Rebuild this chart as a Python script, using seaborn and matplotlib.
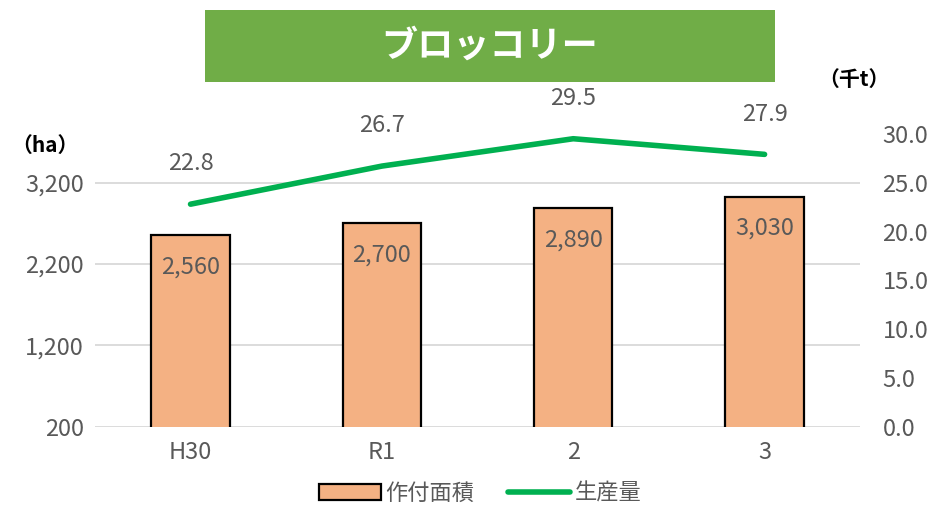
import matplotlib
matplotlib.use("Agg")
import matplotlib.pyplot as plt
import seaborn as sns
import pandas as pd
from matplotlib.patches import Rectangle
from matplotlib.lines import Line2D

# data
years = ["H30", "R1", "2", "3"]
area_ha = [2560, 2700, 2890, 3030]
prod_kt = [22.8, 26.7, 29.5, 27.9]
left_ticks = [200, 1200, 2200, 3200]
right_ticks = [0, 5, 10, 15, 20, 25, 30]

sns.set_style("white")
plt.rcParams['font.family'] = ['Noto Sans CJK JP', 'DejaVu Sans']

gray = "#595959"
df = pd.DataFrame({"year": years, "area": area_ha, "prod": prod_kt})

fig = plt.figure(figsize=(9.3, 5.07), dpi=100)
ax = fig.add_axes([0.102, 0.158, 0.823, 0.578])

# bars
sns.barplot(data=df, x="year", y="area", ax=ax, color="#F4B183",
            width=0.41, edgecolor="black", linewidth=1.6, saturation=1,
            zorder=3)
ax.set_ylim(200, 3800)
ax.set_xlim(-0.5, 3.5)
ax.set_yticks(left_ticks)
ax.set_yticklabels([f"{v:,}" for v in left_ticks])
ax.yaxis.grid(True, color="#D9D9D9", linewidth=1.3, zorder=0)
ax.set_axisbelow(True)
for s in ax.spines.values():
    s.set_visible(False)
ax.set_xlabel("")
ax.set_ylabel("")
ax.tick_params(axis="both", length=0, labelsize=17, colors=gray, pad=8)
ax.tick_params(axis="x", pad=10)
for i, v in enumerate(area_ha):
    ax.annotate(f"{v:,}", (i, v), xytext=(0, -23), textcoords="offset points",
                ha="center", va="center", fontsize=17, color=gray, zorder=5)

# line on secondary axis
ax2 = ax.twinx()
sns.lineplot(x=list(range(len(years))), y=prod_kt, ax=ax2, color="#00B050",
             linewidth=4, zorder=4)
ax2.set_ylim(0, 30)
ax2.set_xlim(-0.5, 3.5)
ax2.set_yticks(right_ticks)
ax2.set_yticklabels([f"{v:.1f}" for v in right_ticks])
ax2.tick_params(axis="y", length=0, labelsize=17, colors=gray, pad=16)
for s in ax2.spines.values():
    s.set_visible(False)
for i, v in enumerate(prod_kt):
    ax2.annotate(f"{v:.1f}", (i, v), xytext=(0, 29), textcoords="offset points",
                 ha="center", va="center", fontsize=17, color=gray,
                 annotation_clip=False)

# unit labels
fig.text(0.048, 0.713, "（ha）", fontsize=15, fontweight="bold", ha="center",
         va="center", color="black")
fig.text(0.918, 0.843, "（千t）", fontsize=15, fontweight="bold", ha="center",
         va="center", color="black")

# title box
fig.patches.append(Rectangle((0.220, 0.838), 0.613, 0.142,
                             transform=fig.transFigure, facecolor="#70AD47",
                             edgecolor="none"))
fig.text(0.527, 0.909, "ブロッコリー", fontsize=26, fontweight="bold",
         color="white", ha="center", va="center")

# legend
handles = [Rectangle((0, 0), 1, 1, facecolor="#F4B183", edgecolor="black",
                     linewidth=1.6),
           Line2D([0], [0], color="#00B050", linewidth=4)]
leg = fig.legend(handles, ["作付面積", "生産量"], loc="center",
                 bbox_to_anchor=(0.516, 0.027), ncol=2, frameon=False,
                 fontsize=16, handlelength=2.8, handletextpad=0.2,
                 columnspacing=1.5)
for t in leg.get_texts():
    t.set_color(gray)

fig.savefig("out.png", dpi=100)
